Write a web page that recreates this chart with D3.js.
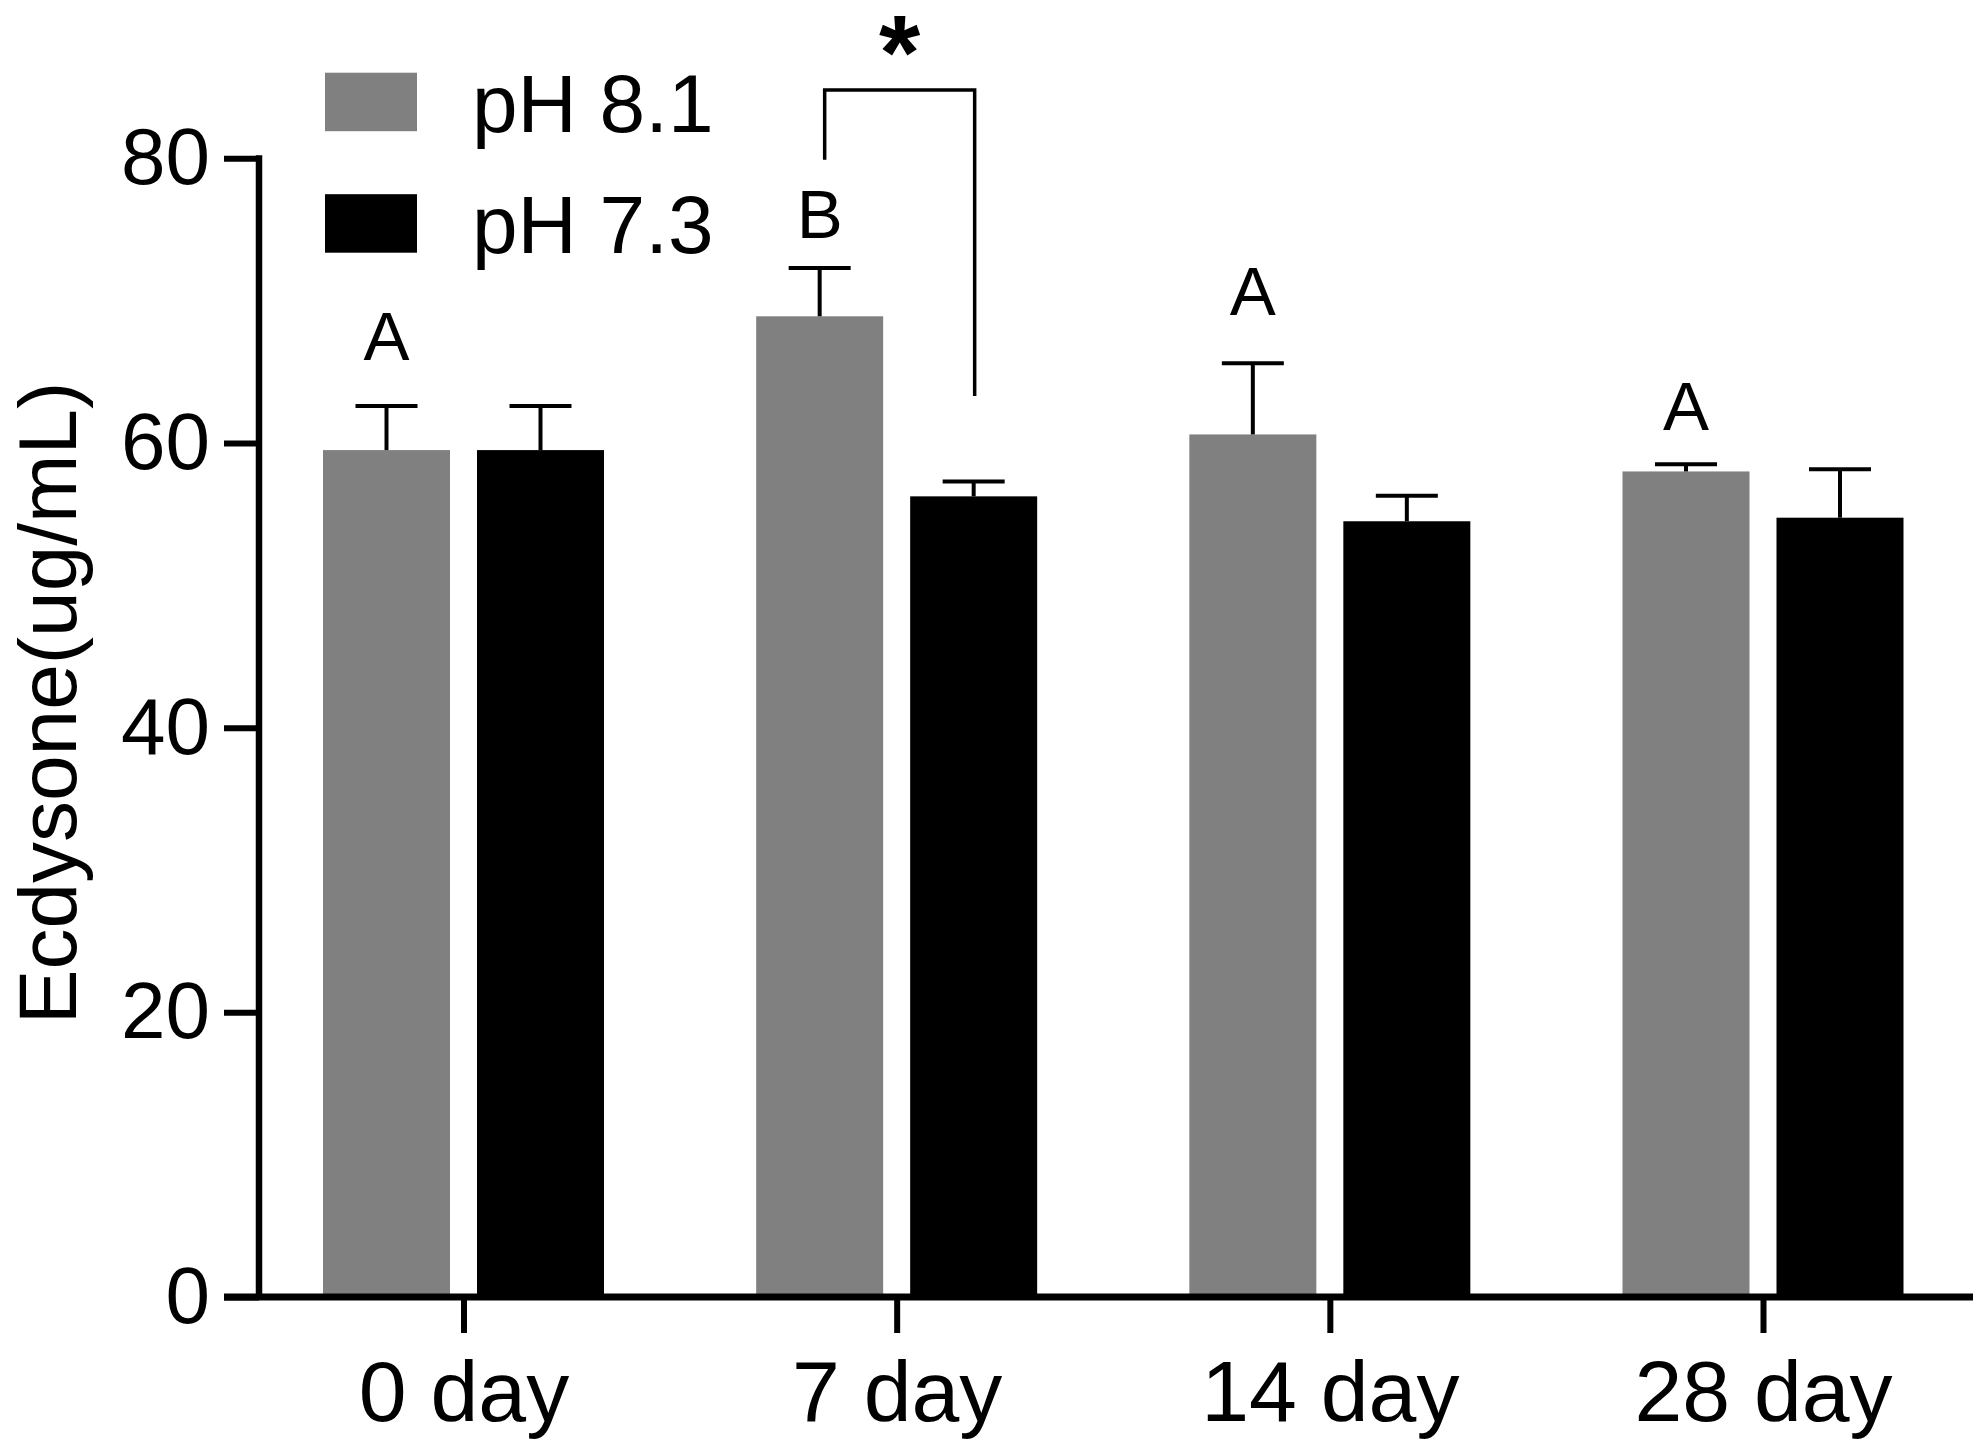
<!DOCTYPE html>
<html><head><meta charset="utf-8">
<script src="https://cdn.jsdelivr.net/npm/d3@7"></script>
<style>body{margin:0;background:#fff}svg{display:block}</style>
</head><body>
<svg id="chart" width="1983" height="1450"></svg>
<script>
// ---- data ----
const categories = ["0 day", "7 day", "14 day", "28 day"];
const seriesNames = ["pH 8.1", "pH 7.3"];
const ph81 = [59.5, 68.9, 60.6, 58.0];
const ph81Err = [3.1, 3.4, 5.0, 0.5];
const ph73 = [59.5, 56.25, 54.5, 54.75];
const ph73Err = [3.1, 1.05, 1.8, 3.4];
const yTicks = [0, 20, 40, 60, 80];
const groupLetters = ["A", "B", "A", "A"];
const groupLetterY = [65.8, 74.4, 69.0, 60.9];
const bracketCategory = "7 day";
const bracketLevels = [79.9, 84.8, 63.3]; // left end, top, right end
const bracketLabel = "*";
const yTitle = "Ecdysone(ug/mL)";
const seriesColors = ["#808080", "#000000"];

// ---- layout ----
const FONT = "'Liberation Sans', Arial, Helvetica, sans-serif";
const svg = d3.select("#chart").style("font-family", FONT);

const y = d3.scaleLinear().domain([0, 80]).range([1297, 158.3]);
const x = d3.scalePoint().domain(categories).range([463.5, 1763]);
const xs = d3.scaleBand().domain(seriesNames).range([-140.5, 140.5]).paddingInner(0.1753);
const color = d3.scaleOrdinal().domain(seriesNames).range(seriesColors);

const rows = [];
categories.forEach((c, i) => {
  rows.push({cat: c, s: seriesNames[0], v: ph81[i], e: ph81Err[i]});
  rows.push({cat: c, s: seriesNames[1], v: ph73[i], e: ph73Err[i]});
});

// bars
svg.append("g").selectAll("rect").data(rows).join("rect")
  .attr("x", d => x(d.cat) + xs(d.s))
  .attr("width", xs.bandwidth())
  .attr("y", d => y(d.v))
  .attr("height", d => y(0) - y(d.v))
  .attr("fill", d => color(d.s));

// error bars (upper only)
const eb = svg.append("g").attr("stroke", "#000").attr("stroke-width", 4);
rows.forEach(d => {
  const cx = x(d.cat) + xs(d.s) + xs.bandwidth() / 2;
  eb.append("line").attr("x1", cx).attr("x2", cx).attr("y1", y(d.v)).attr("y2", y(d.v + d.e));
  eb.append("line").attr("x1", cx - 31).attr("x2", cx + 31).attr("y1", y(d.v + d.e)).attr("y2", y(d.v + d.e));
});

// y axis
const yAxis = d3.axisLeft(y).tickValues(yTicks).tickSize(35).tickSizeOuter(0).tickPadding(14);
const gy = svg.append("g").attr("transform", "translate(259,0)").call(yAxis);
gy.select(".domain").remove();
gy.selectAll(".tick line").attr("stroke", "#000").attr("stroke-width", 6);
gy.selectAll(".tick text").attr("font-size", 80).attr("fill", "#000").attr("font-family", FONT);
gy.append("line").attr("x1", 0).attr("x2", 0).attr("y1", y(80) - 3).attr("y2", y(0) + 3)
  .attr("stroke", "#000").attr("stroke-width", 6.5);

// x axis
const xAxis = d3.axisBottom(x).tickSize(36).tickSizeOuter(0).tickPadding(27);
const gx = svg.append("g").attr("transform", `translate(0,${y(0)})`).call(xAxis);
gx.select(".domain").remove();
gx.selectAll(".tick line").attr("stroke", "#000").attr("stroke-width", 6);
gx.selectAll(".tick text").attr("font-size", 86).attr("fill", "#000").attr("font-family", FONT);
gx.append("line").attr("x1", 224).attr("x2", 1973).attr("y1", 0).attr("y2", 0)
  .attr("stroke", "#000").attr("stroke-width", 7);

// y title
svg.append("text")
  .attr("transform", `translate(76,703) rotate(-90)`)
  .attr("text-anchor", "middle")
  .attr("font-size", 82)
  .attr("fill", "#000")
  .text(yTitle);

// group letters
svg.append("g").selectAll("text").data(categories).join("text")
  .attr("x", c => x(c) + xs(seriesNames[0]) + xs.bandwidth() / 2)
  .attr("y", (c, i) => y(groupLetterY[i]))
  .attr("text-anchor", "middle")
  .attr("font-size", 69)
  .attr("fill", "#000")
  .text((c, i) => groupLetters[i]);

// significance bracket
const bx1 = x(bracketCategory) + xs(seriesNames[0]) + xs.bandwidth() / 2 + 5;
const bx2 = x(bracketCategory) + xs(seriesNames[1]) + xs.bandwidth() / 2 + 1;
svg.append("path")
  .attr("d", d3.line()([[bx1, y(bracketLevels[0])], [bx1, y(bracketLevels[1])], [bx2, y(bracketLevels[1])], [bx2, y(bracketLevels[2])]]))
  .attr("fill", "none").attr("stroke", "#000").attr("stroke-width", 3.5);
svg.append("text")
  .attr("x", (bx1 + bx2) / 2)
  .attr("y", y(bracketLevels[1]) - 1)
  .attr("text-anchor", "middle")
  .attr("font-size", 106)
  .attr("font-weight", "bold")
  .attr("fill", "#000")
  .text(bracketLabel);

// legend
const lg = svg.append("g").attr("transform", "translate(325,72.7)");
seriesNames.forEach((s, i) => {
  const row = lg.append("g").attr("transform", `translate(0,${i * 121.5})`);
  row.append("rect").attr("width", 92).attr("height", 58.5).attr("fill", color(s));
  row.append("text").attr("x", 147).attr("y", 59).attr("font-size", 82).attr("fill", "#000").text(s);
});
</script>
</body></html>
